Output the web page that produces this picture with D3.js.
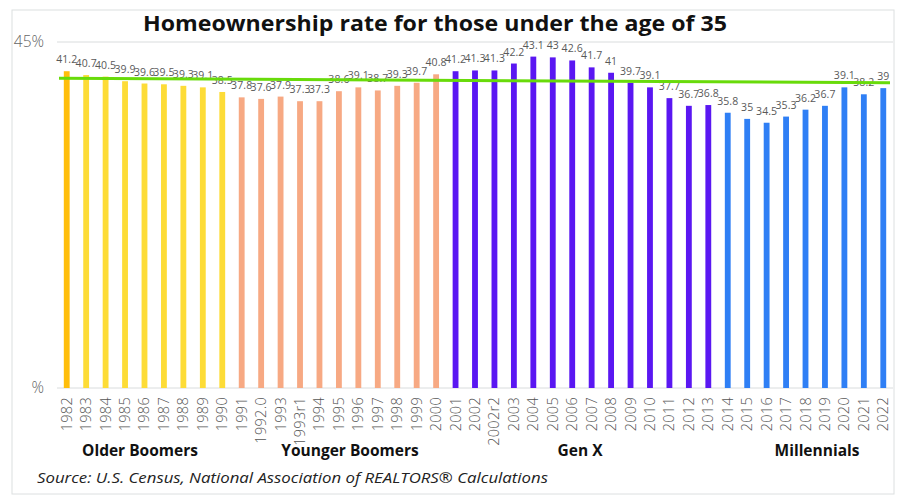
<!DOCTYPE html>
<html>
<head>
<meta charset="utf-8">
<script src="https://cdn.jsdelivr.net/npm/d3@7"></script>
<style>
  body { margin: 0; background: #fff; }
  svg { display: block; font-family: "Open Sans", sans-serif; }
</style>
</head>
<body>
<div class="chart"></div>
<script>
// data
const years = ["1982","1983","1984","1985","1986","1987","1988","1989","1990",
  "1991","1992.0","1993","1993r1","1994","1995","1996","1997","1998","1999","2000",
  "2001","2002","2002r2","2003","2004","2005","2006","2007","2008","2009","2010","2011","2012","2013",
  "2014","2015","2016","2017","2018","2019","2020","2021","2022"];
const rates = [41.2,40.7,40.5,39.9,39.6,39.5,39.3,39.1,38.5,
  37.8,37.6,37.9,37.3,37.3,38.6,39.1,38.7,39.3,39.7,40.8,
  41.2,41.3,41.3,42.2,43.1,43,42.6,41.7,41,39.7,39.1,37.7,36.7,36.8,
  35.8,35,34.5,35.3,36.2,36.7,39.1,38.2,39];
// generation of each bar (index into generations)
const barGroup = [0,1,1,1,1,1,1,1,1, 2,2,2,2,2,2,2,2,2,2,2,
  3,3,3,3,3,3,3,3,3,3,3,3,3,3, 4,4,4,4,4,4,4,4,4];
const generations = ["", "Older Boomers", "Younger Boomers", "Gen X", "Millennials"];
const genColors = ["#FFBE0B", "#FDDC37", "#F7A983", "#5A17F2", "#2F7FF5"];
const trendStart = 40.3, trendEnd = 39.7;
const yTicks = [0, 45];

const width = 905, height = 504;
const m = { left: 57, right: 893, top: 42, bottom: 388 };
// where the generation names sit (pixels, centre)
const genLabelX = [null, 140, 350, 580, 817];

const svg = d3.select(".chart").append("svg")
  .attr("width", width).attr("height", height);

// frame
svg.append("rect")
  .attr("x", 12).attr("y", 10).attr("width", 882).attr("height", 484)
  .attr("fill", "none").attr("stroke", "#dcdfe0").attr("stroke-width", 1);

svg.append("text")
  .attr("x", 435).attr("y", 31)
  .attr("text-anchor", "middle")
  .attr("font-size", 21.5).attr("font-weight", 700).attr("fill", "#111")
  .attr("textLength", 584).attr("lengthAdjust", "spacingAndGlyphs")
  .text("Homeownership rate for those under the age of 35");

const x = d3.scaleBand().domain(years).range([m.left, m.right]).paddingInner(0.7).paddingOuter(0.35);
const y = d3.scaleLinear().domain([0, 45]).range([m.bottom, m.top]);

// top gridline + axis line
svg.append("g").selectAll("line").data(yTicks).join("line")
  .attr("x1", m.left).attr("x2", m.right)
  .attr("y1", d => y(d)).attr("y2", d => y(d))
  .attr("stroke", "#d9dcdd").attr("stroke-width", 1);

svg.append("g").selectAll("text").data(yTicks).join("text")
  .attr("x", 44).attr("y", d => y(d) + 5)
  .attr("text-anchor", "end")
  .attr("font-size", 15.5).attr("font-weight", 300).attr("fill", "#666")
  .text(d => d === 0 ? "%" : d + "%");

// bars
svg.append("g").selectAll("rect").data(rates).join("rect")
  .attr("x", (d, i) => x(years[i]))
  .attr("y", d => y(d))
  .attr("width", x.bandwidth())
  .attr("height", d => y(0) - y(d))
  .attr("fill", (d, i) => genColors[barGroup[i]]);

// value labels
svg.append("g").selectAll("text").data(rates).join("text")
  .attr("x", (d, i) => x(years[i]) + x.bandwidth() / 2)
  .attr("y", d => y(d) - 8)
  .attr("text-anchor", "middle")
  .attr("font-size", 10.5).attr("letter-spacing", 0.1).attr("fill", "#595959")
  .text(d => d);

// trend line
svg.append("line")
  .attr("x1", m.left + 2).attr("x2", m.right - 3)
  .attr("y1", y(trendStart)).attr("y2", y(trendEnd))
  .attr("stroke", "#68DB0A").attr("stroke-width", 3);

// year labels
svg.append("g").selectAll("text").data(years).join("text")
  .attr("transform", d => `translate(${x(d) + x.bandwidth() / 2 + 5},${m.bottom + 9}) rotate(-90)`)
  .attr("text-anchor", "end")
  .attr("font-size", 14.5).attr("font-weight", 300).attr("letter-spacing", 0.3).attr("fill", "#555")
  .text(d => d);

// generation labels
const genIdx = d3.range(1, generations.length);
svg.append("g").selectAll("text").data(genIdx).join("text")
  .attr("x", g => genLabelX[g])
  .attr("y", 456)
  .attr("text-anchor", "middle")
  .attr("font-size", 15.5).attr("font-weight", 700).attr("fill", "#111")
  .text(g => generations[g]);

svg.append("text")
  .attr("x", 37).attr("y", 483)
  .attr("font-size", 15).attr("font-style", "italic").attr("fill", "#222")
  .attr("textLength", 511).attr("lengthAdjust", "spacingAndGlyphs")
  .text("Source: U.S. Census, National Association of REALTORS® Calculations");
</script>
</body>
</html>
